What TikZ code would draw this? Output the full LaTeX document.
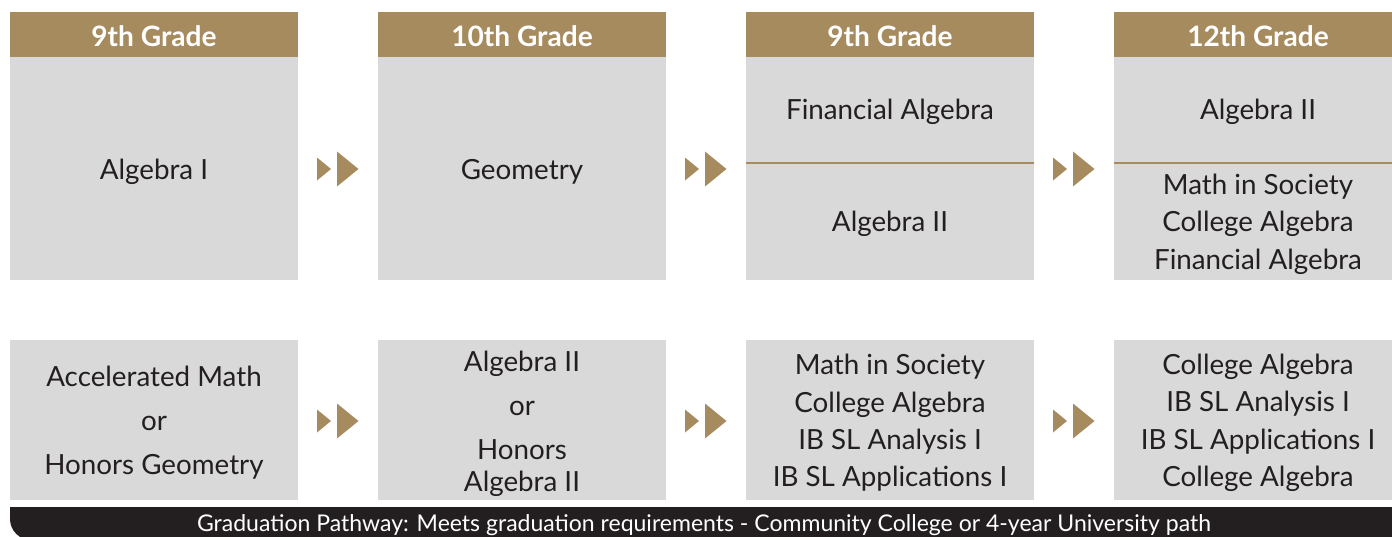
\documentclass[tikz,border=0pt]{standalone}
\usepackage{fontspec}
\setmainfont{Lato}
\definecolor{gold}{HTML}{A68B5E}
\definecolor{boxgray}{HTML}{D9D9D9}
\definecolor{ink}{HTML}{231F20}

\begin{document}
\begin{tikzpicture}[x=0.02cm,y=-0.02cm,
  course/.style={text=ink,font=\fontsize{15.8}{21.3}\selectfont,align=center,inner sep=0pt},
  grade/.style={text=white,font=\fontsize{16}{18}\selectfont\bfseries,inner sep=0pt},
  footer/.style={text=white,font=\fontsize{13.1}{15}\selectfont,inner sep=0pt}]
\useasboundingbox (0,0) rectangle (1392,537);
% columns
\foreach \x/\g [count=\i] in {10/9th Grade,378/10th Grade,746/9th Grade,1114/12th Grade} {
  \fill[gold] (\x,12) rectangle ++(288,45);
  \fill[boxgray] (\x,57) rectangle ++(288,223);
  \fill[boxgray] (\x,340) rectangle ++(288,160);
  \node[grade] (h\i) at (\x+144,36) {\g};
}
\draw[gold,line width=1.4pt] (746,163) -- (1034,163);
\draw[gold,line width=1.4pt] (1114,163) -- (1402,163);
% arrows
\foreach \x in {317,685,1053}
  \foreach \y in {169,421} {
    \fill[gold] (\x,\y-11.5) -- (\x+14,\y) -- (\x,\y+11.5) -- cycle;
    \fill[gold] (\x+20,\y-17.5) -- (\x+41.5,\y) -- (\x+20,\y+17.5) -- cycle;
  }
% top row
\node[course] (a1) at (154,172) {Algebra I};
\node[course] (a2) at (522,172) {Geometry};
\node[course] (a3) at (890,112) {Financial Algebra};
\node[course] (a3b) at (890,224) {Algebra II};
\node[course] (a4) at (1258,112) {Algebra II};
\node[course] (a4b) at (1258,224) {Math in Society\\College Algebra\\Financial Algebra};
% bottom row
\node[course,font=\fontsize{15.8}{25}\selectfont] (b1) at (154,423) {Accelerated Math\\or\\Honors Geometry};
\node[course,font=\fontsize{15.8}{18}\selectfont] (b2) at (522,424) {Algebra II\\[7pt]or\\[7pt]Honors\\Algebra II};
\node[course] (b3) at (890,423) {Math in Society\\College Algebra\\IB SL Analysis I\\IB SL Applications I};
\node[course] (b4) at (1258,423) {College Algebra\\IB SL Analysis I\\IB SL Applications I\\College Algebra};
% footer
\fill[ink] (1402,507) -- (10,507) [rounded corners=12] -- (10,540) [sharp corners] -- (1402,540) -- cycle;
\node[footer] (path) at (704,525) {Graduation Pathway: Meets graduation requirements - Community College or 4-year University path};
\end{tikzpicture}
\end{document}
